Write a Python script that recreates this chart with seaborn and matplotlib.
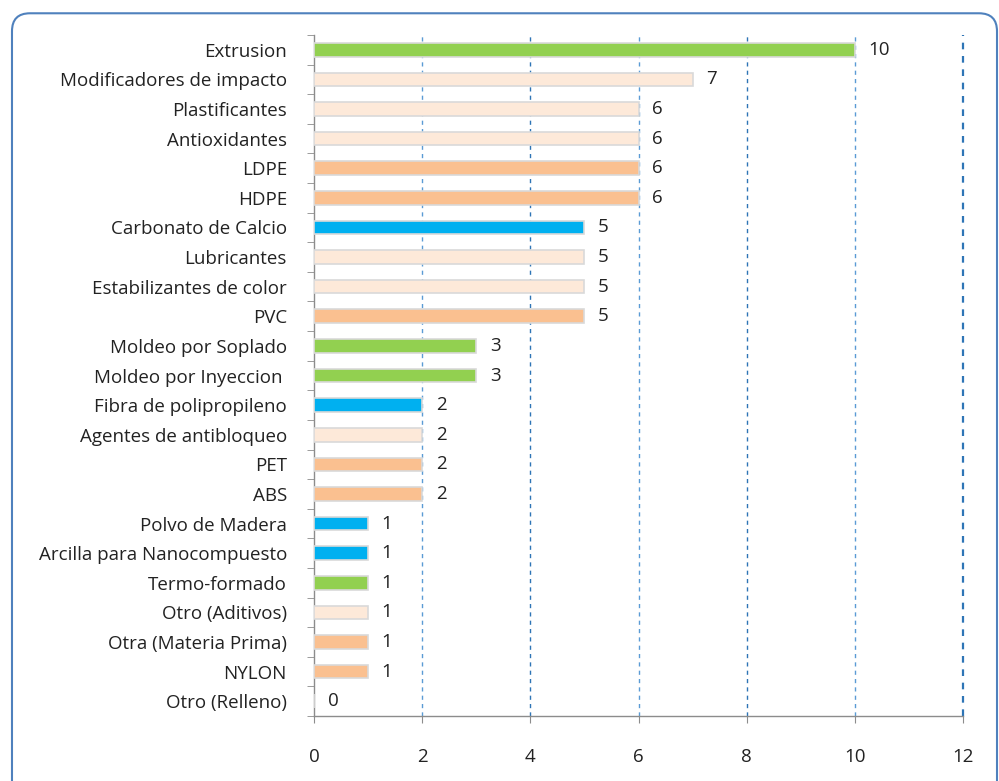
import matplotlib
matplotlib.use("Agg")
import matplotlib.pyplot as plt
from matplotlib.patches import FancyBboxPatch
import seaborn as sns
import pandas as pd

categories = [
    "Extrusion", "Modificadores de impacto", "Plastificantes", "Antioxidantes",
    "LDPE", "HDPE", "Carbonato de Calcio", "Lubricantes",
    "Estabilizantes de color", "PVC", "Moldeo por Soplado", "Moldeo por Inyeccion ",
    "Fibra de polipropileno", "Agentes de antibloqueo", "PET", "ABS",
    "Polvo de Madera", "Arcilla para Nanocompuesto", "Termo-formado",
    "Otro (Aditivos)", "Otra (Materia Prima)", "NYLON", "Otro (Relleno)",
]
counts = [10, 7, 6, 6, 6, 6, 5, 5, 5, 5, 3, 3, 2, 2, 2, 2, 1, 1, 1, 1, 1, 1, 0]
groups = [
    "Proceso", "Aditivo", "Aditivo", "Aditivo", "Materia", "Materia", "Relleno",
    "Aditivo", "Aditivo", "Materia", "Proceso", "Proceso", "Relleno", "Aditivo",
    "Materia", "Materia", "Relleno", "Relleno", "Proceso", "Aditivo", "Materia",
    "Materia", "Relleno",
]
group_colors = {"Proceso": "#92d050", "Aditivo": "#fde9d9",
                "Materia": "#fac090", "Relleno": "#00b0f0"}

df = pd.DataFrame({"cat": categories, "n": counts, "grp": groups})

sns.set_style("white")
plt.rcParams["font.family"] = ["Open Sans", "DejaVu Sans"]

fig = plt.figure(figsize=(9.99, 7.81), dpi=100)
ax = fig.add_axes([0.3143, 0.0832, 0.6497, 0.872])

# rounded blue frame
frame = FancyBboxPatch((0.012, -0.05), 0.986, 1.033, boxstyle="round,pad=0,rounding_size=0.018",
                       transform=fig.transFigure, fill=False, edgecolor="#4f81bd",
                       linewidth=1.5, mutation_aspect=999 / 781)
fig.patches.append(frame)

pal = [group_colors[g] for g in groups]
sns.barplot(data=df, x="n", y="cat", hue="cat", palette=pal, legend=False, saturation=1,
            width=0.46, edgecolor="#d9d9d9", linewidth=1.2, ax=ax, zorder=3)

for i, v in enumerate(counts):
    ax.text(v + 0.25, i, str(v), va="center", ha="left", fontsize=13.5, color="#222222")

ax.set_xlim(0, 12)
ax.set_ylim(22.5, -0.5)
ax.set_xticks(range(0, 13, 2))
for x in range(2, 13, 2):
    c = "#5b9bd5" if x in (2, 6, 10) else "#2e75b6"
    lw = 1.6 if x == 12 else 1
    ax.axvline(x, color=c, linestyle=(0, (3, 3)), linewidth=lw, zorder=1, clip_on=False)

ax.set_xlabel("")
ax.set_ylabel("")
for s in ["top", "right"]:
    ax.spines[s].set_visible(False)
for s in ["left", "bottom"]:
    ax.spines[s].set_color("#8c8c8c")
    ax.spines[s].set_linewidth(1)

ax.tick_params(axis="y", which="major", left=False, labelsize=13.5, pad=16, labelcolor="#222222")
ax.set_yticks([i + 0.5 for i in range(-1, 23)], minor=True)
ax.tick_params(axis="y", which="minor", left=True, length=5, color="#8c8c8c")
ax.tick_params(axis="x", bottom=True, length=5, color="#8c8c8c", labelsize=13.5, pad=18,
               labelcolor="#222222")
ax.grid(False)

fig.savefig("out.png", dpi=100)
